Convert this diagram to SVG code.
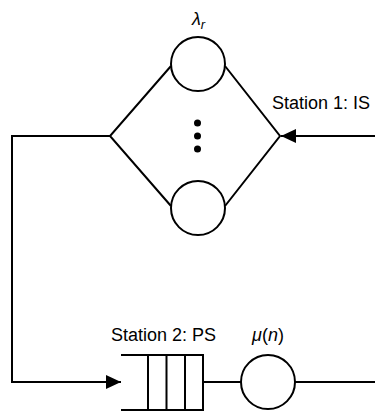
<svg xmlns="http://www.w3.org/2000/svg" width="375" height="416" viewBox="0 0 375 416">
<style>
.ln{fill:none;stroke:#000;stroke-width:2}
.c{fill:#fff;stroke:#000;stroke-width:2}
.t{font-family:"Liberation Sans",Arial,sans-serif;font-size:18px;fill:#000}
.i{font-style:italic}
</style>
<defs>
<marker id="ah" markerWidth="15" markerHeight="14" refX="15" refY="7" orient="auto" markerUnits="userSpaceOnUse">
<path d="M0,0 L15,7 L0,14 Z" fill="#000"/>
</marker>
</defs>
<g id="connectors">
<path class="ln" d="M375,136 L281,136" marker-end="url(#ah)"/>
<path class="ln" d="M110,136 L12,136 L12,382 L121,382" marker-end="url(#ah)"/>
<path class="ln" d="M203,382 L241,382"/>
<path class="ln" d="M295,382 L375,382"/>
</g>
<g id="station1">
<path class="ln" d="M171,66 L110,136 L171,206 M225,66 L280,136 L225,206"/>
<circle class="c" cx="198" cy="64" r="27"/>
<circle class="c" cx="198" cy="208" r="27"/>
<circle cx="197.5" cy="123" r="3.5"/>
<circle cx="197.5" cy="136" r="3.5"/>
<circle cx="197.5" cy="149" r="3.5"/>
<text class="t i" x="192" y="25">λ<tspan font-size="13" dy="4">r</tspan></text>
<text class="t" x="272" y="109">Station 1: IS</text>
</g>
<g id="station2">
<path class="ln" d="M121,355 L203,355 L203,410 L121,410 M148,355 L148,410 M166.5,355 L166.5,410 M185,355 L185,410"/>
<circle class="c" cx="268" cy="382" r="27"/>
<text class="t" x="111" y="341">Station 2: PS</text>
<text class="t" x="252" y="341"><tspan class="i">μ</tspan>(<tspan class="i">n</tspan>)</text>
</g>
</svg>
